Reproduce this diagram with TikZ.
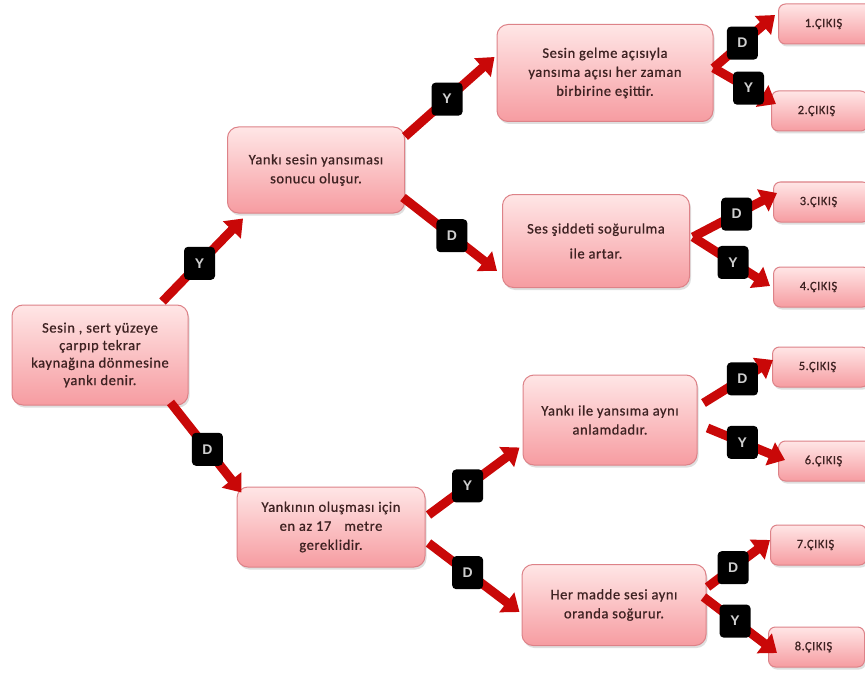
\documentclass[tikz,border=0pt]{standalone}
\usepackage{fontspec}
\setmainfont{Carlito}
\newfontfamily\qfontfam[LetterSpace=4, FakeBold=0.8]{Carlito}
\newfontfamily\lblfontfam{Liberation Sans}
\usetikzlibrary{arrows.meta,shadows,calc}

\definecolor{boxtop}{HTML}{FFE6E6}
\definecolor{boxbot}{HTML}{F69CA1}
\definecolor{boxline}{HTML}{DD8288}
\definecolor{boxtext}{HTML}{3E2222}
\definecolor{arrred}{HTML}{C90808}
\definecolor{lbltext}{HTML}{CFCFCF}

\tikzset{
  qbox/.style={draw=boxline, line width=1pt, rounded corners=11pt,
    top color=boxtop, bottom color=boxbot, align=center, text=boxtext,
    font=\qfontfam\fontsize{14.5}{19}\selectfont, inner sep=3pt,
    drop shadow={opacity=0.25, shadow xshift=1.5pt, shadow yshift=-2.5pt}},
  outbox/.style={qbox, anchor=west, minimum width=96pt, minimum height=40pt,
    rounded corners=7pt, font=\qfontfam\fontsize{12.5}{14}\selectfont},
  arr/.style={draw=arrred, line width=9pt,
    -{Triangle[length=16pt,width=24pt]}},
  lbl/.style={fill=black, rounded corners=4pt, minimum width=31pt,
    minimum height=33pt, inner sep=0pt, text=lbltext,
    font=\lblfontfam\bfseries\fontsize{14}{14}\selectfont},
}

\begin{document}
\begin{tikzpicture}[x=1pt, y=-1pt]
  \useasboundingbox (0,0) rectangle (865,674);
  \fill[white] (0,0) rectangle (865,674);
  \clip (0,0) rectangle (865,674);

  % question boxes
  \node[qbox, minimum width=176pt, minimum height=100pt,
        font=\qfontfam\fontsize{14.5}{17.5}\selectfont] (root) at (100,355)
    {Sesin , sert yüzeye\\çarpıp tekrar\\kaynağına dönmesine\\yankı denir.};
  \node[qbox, minimum width=177pt, minimum height=86pt] (A) at (316,170)
    {Yankı sesin yansıması\\sonucu oluşur.};
  \node[qbox, minimum width=216pt, minimum height=97pt] (A1) at (605,73)
    {Sesin gelme açısıyla\\yansıma açısı her zaman\\birbirine eşittir.};
  \node[qbox, minimum width=187pt, minimum height=93pt] (A2) at (596,241)
    {Ses şiddeti soğurulma\\[6pt]ile artar.};
  \node[qbox, minimum width=188pt, minimum height=80pt] (B) at (331,527)
    {Yankının oluşması için\\en az 17\hspace{0.9em}metre\\gereklidir.};
  \node[qbox, minimum width=174pt, minimum height=90pt] (B1) at (610,420)
    {Yankı ile yansıma aynı\\anlamdadır.};
  \node[qbox, minimum width=184pt, minimum height=81pt] (B2) at (614,605)
    {Her madde sesi aynı\\oranda soğurur.};

  % exit boxes (running off the right edge)
  \node[outbox] (E1) at (778,24)  {1.ÇIKIŞ\hspace{6pt}};
  \node[outbox] (E2) at (771,111) {2.ÇIKIŞ\hspace{6pt}};
  \node[outbox] (E3) at (773,202) {3.ÇIKIŞ\hspace{6pt}};
  \node[outbox] (E4) at (773,287) {4.ÇIKIŞ\hspace{6pt}};
  \node[outbox] (E5) at (772,367) {5.ÇIKIŞ\hspace{6pt}};
  \node[outbox] (E6) at (778,461) {6.ÇIKIŞ\hspace{6pt}};
  \node[outbox] (E7) at (770,545) {7.ÇIKIŞ\hspace{6pt}};
  \node[outbox] (E8) at (768,647) {8.ÇIKIŞ\hspace{6pt}};

  % connectors with their yes/no labels
  \draw[arr] ($(root.north east)+(-26,-3)$) -- ($(A.south west)+(16,5)$)
    node[lbl, pos=0.46] {Y};
  \draw[arr] ($(root.south east)+(-18,-3)$) -- ($(B.north west)+(5,6)$)
    node[lbl, pos=0.52] {D};

  \draw[arr] ($(A.north east)+(0,10)$) -- ($(A1.west)+(-2,-16)$)
    node[lbl, pos=0.47] {Y};
  \draw[arr] ($(A.south east)+(-2,-16)$) -- ($(A2.south west)+(-5,-17)$)
    node[lbl, pos=0.52] {D};

  \draw[arr] ($(A1.east)+(0,-5)$) -- ($(E1.west)+(-3,-9)$)
    node[lbl, pos=0.47] {D};
  \draw[arr] ($(A1.east)+(0,-5)$) -- ($(E2.west)+(5,-7)$)
    node[lbl, pos=0.56] {Y};

  \draw[arr] ($(A2.east)+(3,-4)$) -- ($(E3.west)+(4,-9)$)
    node[lbl, pos=0.52] {D};
  \draw[arr] ($(A2.east)+(3,-4)$) -- ($(E4.west)+(-3,-1)$)
    node[lbl, pos=0.52] {Y};

  \draw[arr] ($(B.east)+(3,-12)$) -- ($(B1.south west)+(-3,-18)$)
    node[lbl, pos=0.43] {Y};
  \draw[arr] ($(B.east)+(3,16)$) -- ($(B2.west)+(-2,7)$)
    node[lbl, pos=0.43] {D};

  \draw[arr] ($(B1.east)+(6,-17)$) -- ($(E5.west)+(1,-7)$)
    node[lbl, pos=0.56] {D};
  \draw[arr] ($(B1.east)+(10,8)$) -- ($(E6.west)+(7,-1)$)
    node[lbl, pos=0.45] {Y};

  \draw[arr] ($(B2.east)+(1,-18)$) -- ($(E7.west)+(0,-5)$)
    node[lbl, pos=0.41] {D};
  \draw[arr] ($(B2.east)+(-3,-8)$) -- ($(E8.west)+(9,6)$)
    node[lbl, pos=0.43] {Y};
\end{tikzpicture}
\end{document}
